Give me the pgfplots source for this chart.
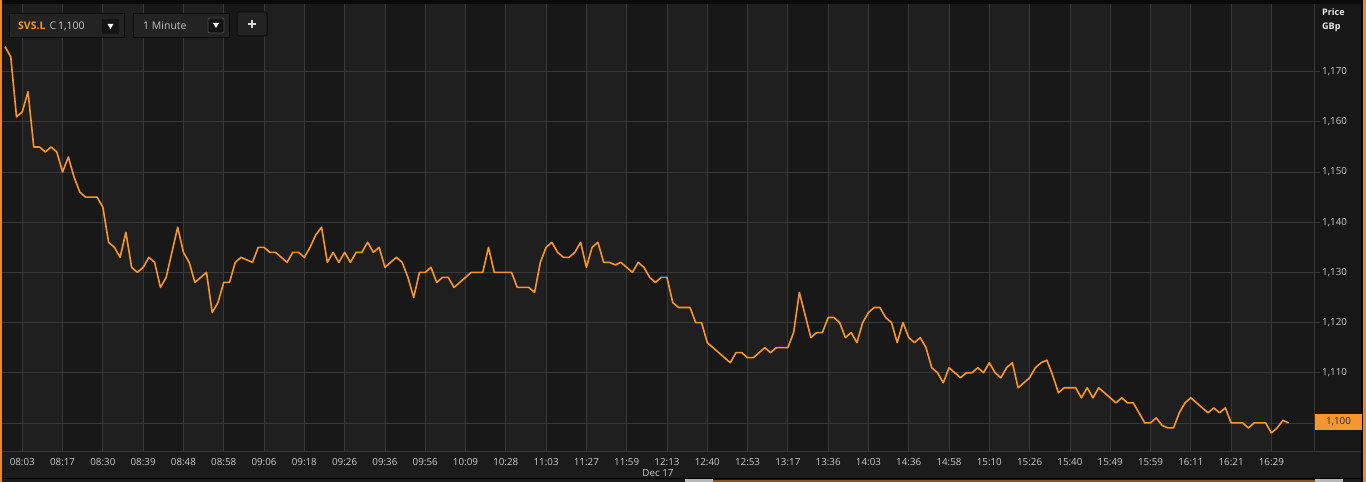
\documentclass[border=0pt]{standalone}
\usepackage{pgfplots}
\pgfplotsset{compat=1.18}
\usepackage{fontspec}
\setmainfont{Open Sans}
\definecolor{outerbg}{HTML}{1B1B1B}
\definecolor{banddark}{HTML}{181818}
\definecolor{bandlight}{HTML}{1F1F1F}
\definecolor{labelbg}{HTML}{171717}
\definecolor{topbar}{HTML}{0A0A0A}
\definecolor{gridcol}{HTML}{383838}
\definecolor{ticktext}{HTML}{CACACA}
\definecolor{lineorange}{HTML}{F7962E}
\definecolor{frameorange}{HTML}{E8892A}
\definecolor{widgetbg}{HTML}{232323}
\definecolor{widgetborder}{HTML}{0C0C0C}

\pgfplotstableread{
idx val
0 1175
1 1173
2 1161
3 1162
4 1166
5 1155
6 1155
7 1154
8 1155
9 1154
10 1150
11 1153
12 1149
13 1146
14 1145
15 1145
16 1145
17 1143
18 1136
19 1135
20 1133
21 1138
22 1131
23 1130
24 1131
25 1133
26 1132
27 1127
28 1129
29 1134
30 1139
31 1134
32 1132
33 1128
34 1129
35 1130
36 1122
37 1124
38 1128
39 1128
40 1132
41 1133
42 1132.5
43 1132
44 1135
45 1135
46 1134
47 1134
48 1133
49 1132
50 1134
51 1134
52 1133
53 1135
54 1137.5
55 1139
56 1132
57 1134
58 1132
59 1134
60 1132
61 1134
62 1134
63 1136
64 1134
65 1135
66 1131
67 1132
68 1133
69 1132
70 1129
71 1125
72 1130
73 1130
74 1131
75 1128
76 1129
77 1129
78 1127
79 1128
80 1129
81 1130
82 1130
83 1130
84 1135
85 1130
86 1130
87 1130
88 1130
89 1127
90 1127
91 1127
92 1126
93 1132
94 1135
95 1136
96 1134
97 1133
98 1133
99 1134
100 1136
101 1131
102 1135
103 1136
104 1132
105 1132
106 1131.5
107 1132
108 1131
109 1130
110 1132
111 1131
112 1129
113 1128
114 1129
115 1129
116 1124
117 1123
118 1123
119 1123
120 1120
121 1120
122 1116
123 1115
124 1114
125 1113
126 1112
127 1114
128 1114
129 1113
130 1113
131 1114
132 1115
133 1114
134 1115
135 1115
136 1115
137 1118
138 1126
139 1121.5
140 1117
141 1118
142 1118
143 1121
144 1121
145 1120
146 1117
147 1118
148 1116
149 1120
150 1122
151 1123
152 1123
153 1121
154 1120
155 1116
156 1120
157 1117
158 1116
159 1117
160 1115
161 1111
162 1110
163 1108
164 1111
165 1110
166 1109
167 1110
168 1110
169 1111
170 1110
171 1112
172 1110
173 1109
174 1111
175 1112
176 1107
177 1108
178 1109
179 1111
180 1112
181 1112.5
182 1109.5
183 1106
184 1107
185 1107
186 1107
187 1105
188 1107
189 1105
190 1107
191 1106
192 1105
193 1104
194 1105
195 1104
196 1104
197 1102
198 1100
199 1100
200 1101
201 1099.5
202 1099
203 1099
204 1102
205 1104
206 1105
207 1104
208 1103
209 1102
210 1103
211 1102
212 1103
213 1100
214 1100
215 1100
216 1099
217 1100
218 1100
219 1100
220 1098
221 1099
222 1100.5
223 1100
}\pricetable

\begin{document}
\begin{tikzpicture}
% backgrounds
\fill[outerbg] (0,0) rectangle (1366bp,482bp);
\useasboundingbox (0,0) rectangle (1366bp,482bp);
\fill[banddark] (2bp,31bp) rectangle (1314bp,478bp);
\foreach \m in {0,...,15}{
  \fill[bandlight] ({(22.26+80.59*\m)*1bp},31bp) rectangle ({(62.55+80.59*\m)*1bp},478bp);
}
\fill[labelbg] (1314bp,31bp) rectangle (1362bp,478bp);
\fill[topbar] (0,478bp) rectangle (1366bp,482bp);

\begin{axis}[
  at={(2bp,31bp)}, anchor=south west,
  scale only axis, width=1312bp, height=447bp,
  xmin=-0.52, xmax=227.4, ymin=1094.4, ymax=1183.5,
  axis line style={draw=none},
  xtick={3,10,...,220},
  xticklabels={08:03,08:17,08:30,08:39,08:48,08:58,09:06,09:18,09:26,09:36,09:56,10:09,10:28,11:03,11:27,11:59,12:13,12:40,12:53,13:17,13:36,14:03,14:36,14:58,15:10,15:26,15:40,15:49,15:59,16:11,16:21,16:29},
  ytick={1110,1120,...,1170},
  extra y ticks={1100}, extra y tick labels={},
  extra y tick style={grid=major},
  grid=major,
  grid style={draw=gridcol, line width=0.8bp},
  xtick style={draw=none},
  ytick style={draw=gridcol, line width=0.8bp},
  tick align=outside,
  major tick length=6bp,
  ytick pos=right,
  yticklabel pos=right,
  /pgf/number format/1000 sep={,},
  /pgf/number format/assume math mode=true,
  ticklabel style={font=\fontsize{9.8bp}{11bp}\selectfont, text=ticktext},
  xticklabel style={anchor=center, yshift=-5bp, inner sep=0pt},
  yticklabel style={anchor=west, inner sep=0pt, xshift=2bp},
]
\addplot[lineorange, line width=1.6bp, line join=round, mark=none] table[x=idx, y=val] {\pricetable};
\end{axis}

% frame lines
\draw[gridcol, line width=0.8bp] (0,31bp) -- (1362bp,31bp);
\draw[gridcol, line width=0.8bp] (1314bp,31bp) -- (1314bp,478bp);
\draw[black, line width=1bp] (0,3.5bp) -- (1366bp,3.5bp);
\fill[gray!55] (685bp,0) rectangle (713bp,3bp);
\fill[frameorange!60!black] (713bp,0) rectangle (1315bp,2bp);
\fill[gray!55] (1315bp,0) rectangle (1343bp,3bp);
\fill[frameorange] (0,0) rectangle (2bp,482bp);
\fill[black] (1361bp,0) rectangle (1363bp,482bp);
\fill[frameorange] (1363bp,0) rectangle (1366bp,482bp);

% Dec 17
\node[text=ticktext, font=\fontsize{9.8bp}{11bp}\selectfont, inner sep=0pt] at (658bp,9bp) {Dec 17};

% Price / GBp
\node[anchor=west, text=white!92!black, font=\fontsize{9bp}{10bp}\selectfont\bfseries, inner sep=0pt] at (1322bp,470bp) {Price};
\node[anchor=west, text=white!92!black, font=\fontsize{9bp}{10bp}\selectfont\bfseries, inner sep=0pt] at (1322bp,455bp) {GBp};

% last price box
\fill[lineorange] (1315bp,52bp) rectangle (1362bp,68bp);
\node[text=black!85, font=\fontsize{9.8bp}{11bp}\selectfont, inner sep=0pt] at (1338.5bp,60bp) {1,100};

% widgets
\filldraw[fill=widgetbg, draw=widgetborder, line width=1bp] (9bp,444bp) rectangle (124bp,468bp);
\node[anchor=west, inner sep=0pt, font=\fontsize{10.5bp}{12bp}\selectfont] at (18bp,456bp) {\textcolor{lineorange}{\bfseries SVS.L}\hspace{4bp}\textcolor{ticktext!80!gray}{C}\hspace{2bp}\textcolor{ticktext}{1,100}};
\fill[black!92] (102bp,448bp) rectangle (119bp,463bp);
\fill[white] (107.5bp,458bp) -- (113.5bp,458bp) -- (110.5bp,453bp) -- cycle;

\filldraw[fill=widgetbg, draw=widgetborder, line width=1bp] (133bp,444bp) rectangle (229bp,468bp);
\node[anchor=west, inner sep=0pt, text=ticktext!85!gray, font=\fontsize{10.5bp}{12bp}\selectfont] at (143bp,456bp) {1 Minute};
\filldraw[fill=black!92, draw=gray!60!black, line width=0.8bp, rounded corners=2bp] (208bp,449bp) rectangle (224bp,464bp);
\fill[white] (213bp,459bp) -- (219bp,459bp) -- (216bp,454bp) -- cycle;

\filldraw[fill=widgetbg, draw=widgetborder, line width=1bp, rounded corners=2bp] (237bp,446bp) rectangle (267bp,470bp);
\fill[white!85!black] (248bp,457.2bp) rectangle (256bp,459.2bp);
\fill[white!85!black] (251bp,454.2bp) rectangle (253bp,462.2bp);
\end{tikzpicture}
\end{document}
